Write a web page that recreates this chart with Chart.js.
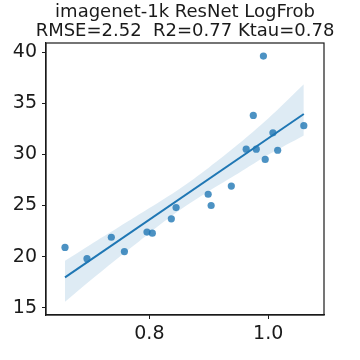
<!DOCTYPE html>
<html>
<head>
<meta charset="utf-8">
<script src="https://cdn.jsdelivr.net/npm/chart.js@4"></script>
<style>
  html, body { margin: 0; padding: 0; background: #fff; }
  #wrap { width: 360px; height: 360px; }
</style>
</head>
<body>
<div id="wrap"><canvas id="chart" width="360" height="360"></canvas></div>
<script>
// scatter points (x = metric, y = accuracy)
const pointX = [0.658, 0.695, 0.736, 0.758, 0.796, 0.805, 0.837, 0.845, 0.899, 0.904,
                0.938, 0.992, 0.975, 0.963, 0.980, 1.008, 0.995, 1.016, 1.060];
const pointY = [20.9, 19.8, 21.9, 20.5, 22.4, 22.3, 23.7, 24.8, 26.1, 25.0,
                26.9, 39.6, 33.8, 30.5, 30.5, 32.1, 29.5, 30.4, 32.8];

// regression line and confidence band
const fitX = [0.658, 1.060];
const fitY = [17.98, 33.94];
const bandX = [0.658, 0.70, 0.75, 0.80, 0.85, 0.90, 0.95, 1.00, 1.060];
const bandUpper = [19.6, 21.15, 22.95, 24.75, 26.6, 28.7, 31.0, 33.5, 36.85];
const bandLower = [15.6, 17.65, 20.0, 22.3, 24.5, 26.4, 28.15, 29.95, 31.85];

// axis ticks
const xTicks = [0.8, 1.0];
const yTicks = [15, 20, 25, 30, 35, 40];

const titleLines = ['imagenet-1k ResNet LogFrob', 'RMSE=2.52  R2=0.77 Ktau=0.78'];

const blue = '31, 119, 180';
const textColor = '#1a1a1a';
const zip = (xs, ys) => xs.map((x, i) => ({ x: x, y: ys[i] }));

// draw the full box around the plot area and the title centred over it
const frame = {
  id: 'frame',
  afterDatasetsDraw(chart) {
    const a = chart.chartArea, c = chart.ctx;
    c.save();
    c.strokeStyle = '#1a1a1a';
    c.lineWidth = 1.2;
    c.strokeRect(a.left, a.top, a.right - a.left, a.bottom - a.top);
    c.restore();
  },
  afterDraw(chart) {
    const a = chart.chartArea, c = chart.ctx;
    const cx = (a.left + a.right) / 2;
    c.save();
    c.fillStyle = textColor;
    c.font = '18px "DejaVu Sans"';
    c.textAlign = 'center';
    c.textBaseline = 'middle';
    titleLines.forEach((t, i) => c.fillText(t, cx, 12 + i * 19.5));
    c.restore();
  }
};

new Chart(document.getElementById('chart'), {
  type: 'line',
  data: {
    datasets: [
      {
        data: zip(pointX, pointY),
        showLine: false,
        pointRadius: 3.6,
        pointBackgroundColor: `rgba(${blue}, 0.8)`,
        pointBorderWidth: 0,
        order: 0
      },
      {
        data: zip(fitX, fitY),
        borderColor: `rgb(${blue})`,
        borderWidth: 2,
        pointRadius: 0,
        fill: false,
        order: 1
      },
      {
        data: zip(bandX, bandUpper),
        borderWidth: 0,
        borderColor: 'rgba(0,0,0,0)',
        pointRadius: 0,
        tension: 0.3,
        fill: '+1',
        backgroundColor: `rgba(${blue}, 0.15)`,
        order: 2
      },
      {
        data: zip(bandX, bandLower),
        borderWidth: 0,
        borderColor: 'rgba(0,0,0,0)',
        pointRadius: 0,
        tension: 0.3,
        fill: false,
        order: 3
      }
    ]
  },
  plugins: [frame],
  options: {
    responsive: false,
    animation: false,
    layout: { padding: { left: 0, right: 36, top: 43, bottom: 0 } },
    plugins: {
      legend: { display: false },
      tooltip: { enabled: false },
      title: { display: false }
    },
    scales: {
      x: {
        type: 'linear',
        min: 0.626,
        max: 1.094,
        afterBuildTicks: axis => { axis.ticks = xTicks.map(v => ({ value: v })); },
        afterFit: axis => { axis.height = 45; },
        ticks: {
          color: textColor,
          font: { family: 'DejaVu Sans', size: 19 },
          padding: 4,
          maxRotation: 0,
          callback: v => v.toFixed(1)
        },
        grid: { drawOnChartArea: false, tickLength: 4, color: '#1a1a1a', tickWidth: 1 },
        border: { color: '#1a1a1a', width: 1.2 }
      },
      y: {
        type: 'linear',
        min: 14.3,
        max: 40.88,
        afterBuildTicks: axis => { axis.ticks = yTicks.map(v => ({ value: v })); },
        afterFit: axis => { axis.width = 46; },
        ticks: {
          color: textColor,
          font: { family: 'DejaVu Sans', size: 19 },
          padding: 5
        },
        grid: { drawOnChartArea: false, tickLength: 4, color: '#1a1a1a', tickWidth: 1 },
        border: { color: '#1a1a1a', width: 1.2 }
      }
    }
  }
});
</script>
</body>
</html>
